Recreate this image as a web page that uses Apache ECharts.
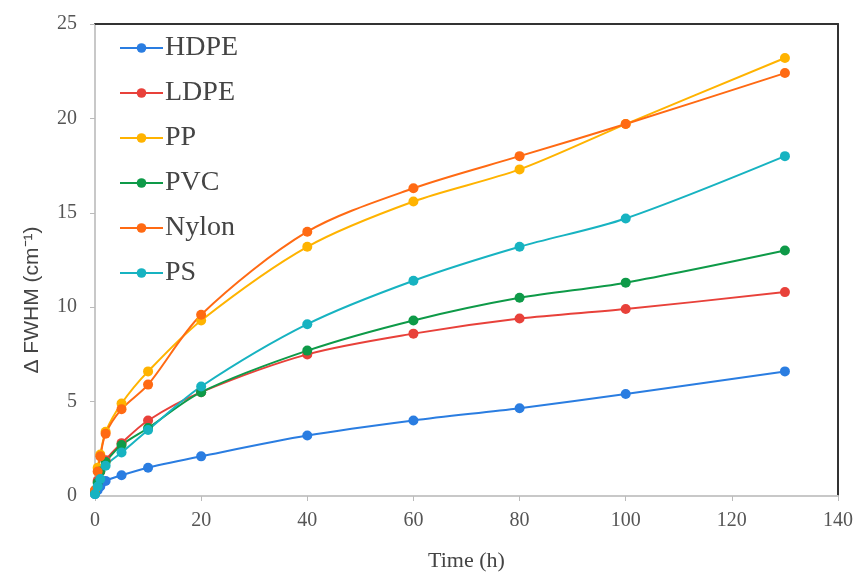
<!DOCTYPE html>
<html>
<head>
<meta charset="utf-8">
<script src="https://cdn.jsdelivr.net/npm/echarts@6/dist/echarts.min.js"></script>
<style>html,body{margin:0;padding:0;background:#fff;}#c{width:859px;height:577px;}</style>
</head>
<body>
<div id="c"></div>
<script>
// Data
const times = [0, 0.5, 1, 2, 5, 10, 20, 40, 60, 80, 100, 130];
const seriesNames = ['HDPE', 'LDPE', 'PP', 'PVC', 'Nylon', 'PS'];
const hdpe  = [0.1, 0.3, 0.5, 0.8, 1.1, 1.5, 2.1, 3.2, 4.0, 4.65, 5.4, 6.6];
const ldpe  = [0.2, 0.8, 1.3, 1.9, 2.8, 4.0, 5.5, 7.5, 8.6, 9.4, 9.9, 10.8];
const pp    = [0.3, 1.5, 2.2, 3.4, 4.9, 6.6, 9.3, 13.2, 15.6, 17.3, 19.7, 23.2];
const pvc   = [0.2, 0.7, 1.3, 1.8, 2.7, 3.6, 5.5, 7.7, 9.3, 10.5, 11.3, 13.0];
const nylon = [0.3, 1.3, 2.1, 3.3, 4.6, 5.9, 9.6, 14.0, 16.3, 18.0, 19.7, 22.4];
const ps    = [0.1, 0.5, 0.9, 1.6, 2.3, 3.5, 5.8, 9.1, 11.4, 13.2, 14.7, 18.0];
const xTicks = [0, 20, 40, 60, 80, 100, 120, 140];
const yTicks = [0, 5, 10, 15, 20, 25];

const values = [hdpe, ldpe, pp, pvc, nylon, ps];
const colors = ['#2a7de1', '#e8413a', '#ffb300', '#0e9a48', '#ff6a13', '#17b3c1'];

const chart = echarts.init(document.getElementById('c'), null, {renderer: 'canvas'});
const serif = '"Liberation Serif", "Times New Roman", serif';

chart.setOption({
  backgroundColor: '#ffffff',
  animation: false,
  grid: {left: 95, right: 21, top: 24, bottom: 79},
  legend: {
    orient: 'vertical',
    left: 114,
    top: 29,
    itemWidth: 43,
    itemHeight: 12,
    itemGap: 17,
    textStyle: {fontFamily: serif, fontSize: 28, color: '#444', lineHeight: 27, padding: [0, 0, 0, -3]},
    data: seriesNames
  },
  xAxis: [{
    type: 'value',
    min: xTicks[0], max: xTicks[xTicks.length - 1], interval: 20,
    name: 'Time (h)',
    nameLocation: 'middle',
    nameGap: 54,
    nameTextStyle: {fontFamily: serif, fontSize: 22, color: '#444'},
    axisLine: {show: true, onZero: false, lineStyle: {color: '#c8c8c8', width: 2}},
    axisTick: {show: true, length: 5, lineStyle: {color: '#bbb', width: 1}},
    axisLabel: {fontFamily: serif, fontSize: 20, color: '#555', margin: 15},
    splitLine: {show: false}
  }, {
    type: 'value', position: 'top',
    min: xTicks[0], max: xTicks[xTicks.length - 1],
    axisLine: {show: true, onZero: false, lineStyle: {color: '#333', width: 2}},
    axisTick: {show: false}, axisLabel: {show: false}, splitLine: {show: false}
  }],
  yAxis: [{
    type: 'value',
    min: yTicks[0], max: yTicks[yTicks.length - 1], interval: 5,
    name: 'Δ FWHM (cm\u207B\u00B9)',
    nameLocation: 'middle',
    nameGap: 52,
    nameRotate: 90,
    nameTextStyle: {fontFamily: '"Liberation Sans", Arial, sans-serif', fontSize: 21, color: '#444', padding: [0, 80, 0, 0]},
    axisLine: {show: true, onZero: false, lineStyle: {color: '#c8c8c8', width: 2}},
    axisTick: {show: true, length: 5, lineStyle: {color: '#bbb', width: 1}},
    axisLabel: {fontFamily: serif, fontSize: 20, color: '#555', margin: 18},
    splitLine: {show: false}
  }, {
    type: 'value', position: 'right',
    min: yTicks[0], max: yTicks[yTicks.length - 1],
    axisLine: {show: true, onZero: false, lineStyle: {color: '#333', width: 2}},
    axisTick: {show: false}, axisLabel: {show: false}, splitLine: {show: false}
  }],
  series: seriesNames.map((name, i) => ({
    name: name,
    type: 'line',
    xAxisIndex: 0,
    yAxisIndex: 0,
    smooth: 0.3,
    symbol: 'circle',
    symbolSize: 10,
    color: colors[i],
    lineStyle: {width: 2, color: colors[i]},
    itemStyle: {color: colors[i]},
    data: times.map((t, j) => [t, values[i][j]])
  }))
});
</script>
</body>
</html>
